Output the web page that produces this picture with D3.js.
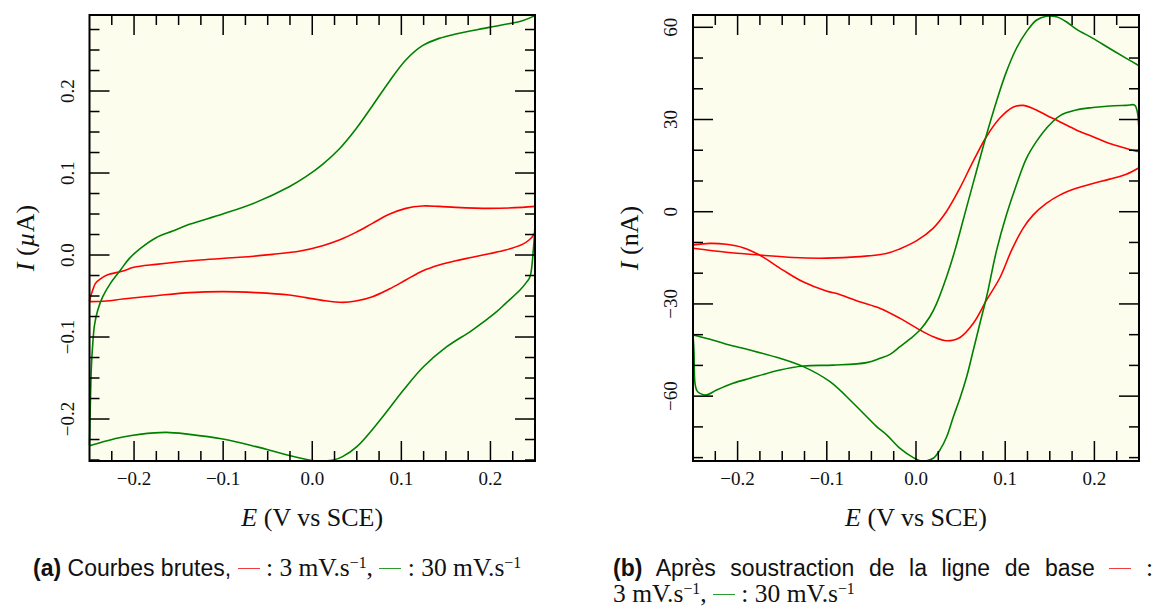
<!DOCTYPE html>
<html><head><meta charset="utf-8">
<script src="https://cdn.jsdelivr.net/npm/d3@7"></script>
<style>
html,body{margin:0;padding:0;background:#fff;}
body{width:1157px;height:607px;overflow:hidden;position:relative;}
#chart{position:absolute;left:0;top:0;}
.cap{position:absolute;font-family:"Liberation Sans",Arial,sans-serif;font-size:23px;color:#111;line-height:25px;white-space:nowrap;}
.m{font-family:"Liberation Serif","Times New Roman",serif;font-size:25.5px;}
.m sup{font-size:0.62em;line-height:0;vertical-align:0.5em;}
.sw{display:inline-block;width:22px;height:0;border-top:1.6px solid;vertical-align:0.3em;}
</style></head>
<body>
<svg id="chart" width="1157" height="607"></svg>
<script>
// ---------- DATA ----------
const xMajorTicks = [-0.2, -0.1, 0.0, 0.1, 0.2];
const xTickLabels = ["\u22120.2", "\u22120.1", "0.0", "0.1", "0.2"];
const leftYTicks = [-0.2, -0.1, 0.0, 0.1, 0.2];
const leftYTickLabels = ["\u22120.2", "\u22120.1", "0.0", "0.1", "0.2"];
const rightYTicks = [-60, -30, 0, 30, 60];
const rightYTickLabels = ["\u221260", "\u221230", "0", "30", "60"];

// (a) raw curves, E (V) vs I (µA): forward (anodic) and reverse scans
const rawRedFwd = [
 [-0.25,-0.0561],[-0.2489,-0.0508],[-0.2470,-0.0447],[-0.2433,-0.0346],[-0.2369,-0.0285],[-0.2302,-0.0244],
 [-0.2126,-0.0195],[-0.2003,-0.0150],[-0.1753,-0.0114],[-0.1256,-0.0061],[-0.0818,-0.0028],[-0.0445,0.0008],
 [-0.0135,0.0049],[0.0116,0.0114],[0.0303,0.0183],[0.0490,0.0276],[0.0676,0.0386],[0.0863,0.0496],
 [0.1050,0.0569],[0.1237,0.0598],[0.1424,0.0593],[0.1611,0.0581],[0.1984,0.0569],[0.2358,0.0581],[0.25,0.0593]
];
const rawRedRev = [
 [0.25,0.0285],[0.2489,0.0252],[0.2433,0.0183],[0.2358,0.0130],[0.2171,0.0061],[0.1984,0.0016],[0.1797,-0.0028],
 [0.1611,-0.0069],[0.1424,-0.0122],[0.1237,-0.0195],[0.1050,-0.0305],[0.0863,-0.0415],[0.0676,-0.0508],
 [0.0490,-0.0561],[0.0340,-0.0577],[0.0116,-0.0553],[-0.0071,-0.0520],[-0.0258,-0.0488],[-0.0632,-0.0459],
 [-0.1005,-0.0447],[-0.1379,-0.0459],[-0.1753,-0.0496],[-0.2126,-0.0537],[-0.2313,-0.0561],[-0.25,-0.0569]
];
const rawGreenFwd = [
 [-0.25,-0.2317],[-0.2489,-0.1748],[-0.2478,-0.1341],[-0.2463,-0.1077],[-0.2444,-0.0854],[-0.2407,-0.0671],
 [-0.2351,-0.0508],[-0.2265,-0.0346],[-0.2152,-0.0183],[-0.2052,-0.0041],[-0.1928,0.0081],[-0.1753,0.0211],
 [-0.1566,0.0293],[-0.1379,0.0374],[-0.1005,0.0500],[-0.0632,0.0642],[-0.0258,0.0833],[-0.0071,0.0955],
 [0.0116,0.1106],[0.0303,0.1293],[0.0490,0.1537],[0.0676,0.1821],[0.0863,0.2114],[0.1050,0.2378],
 [0.1237,0.2553],[0.1424,0.2642],[0.1611,0.2695],[0.1984,0.2776],[0.2358,0.2858],[0.25,0.2919]
];
const rawGreenRev = [
 [0.25,0.0400],[0.2496,0.0285],[0.2481,0.0061],[0.2444,-0.0264],[0.2395,-0.0346],[0.2332,-0.0427],[0.2171,-0.0589],
 [0.2070,-0.0691],[0.1797,-0.0915],[0.1510,-0.1118],[0.1248,-0.1362],[0.1024,-0.1646],[0.0762,-0.2012],
 [0.0501,-0.2337],[0.0340,-0.2459],[0.0239,-0.2500],[0.0116,-0.2510],[-0.0004,-0.2506],[-0.0247,-0.2447],
 [-0.0632,-0.2337],[-0.1005,-0.2244],[-0.1379,-0.2187],[-0.1641,-0.2163],[-0.1939,-0.2187],[-0.2126,-0.2220],
 [-0.2313,-0.2268],[-0.25,-0.2325]
];

// (b) baseline-subtracted curves, E (V) vs I (nA)
const subRedFwd = [
 [-0.25,-11.9],[-0.2126,-13.2],[-0.1753,-14.1],[-0.1379,-14.9],[-0.1005,-15.1],[-0.0632,-14.6],[-0.0333,-13.6],
 [-0.0183,-12.1],[0.0004,-9.5],[0.0191,-5.4],[0.0340,0.0],[0.0490,7.6],[0.0639,16.3],[0.0789,24.4],
 [0.0938,30.4],[0.1087,34.0],[0.1200,34.6],[0.1312,33.6],[0.1461,31.4],[0.1611,29.3],[0.1797,26.6],
 [0.1984,24.4],[0.2171,22.2],[0.2358,20.6],[0.25,19.5]
];
const subRedRev = [
 [0.25,14.3],[0.2358,12.2],[0.2171,10.6],[0.1984,9.2],[0.1797,7.6],[0.1611,5.4],[0.1461,2.7],[0.1312,-1.1],
 [0.1200,-5.4],[0.1072,-12.5],[0.0942,-21.4],[0.0792,-28.7],[0.0643,-36.3],[0.0493,-40.9],[0.0344,-42.0],
 [0.0194,-40.7],[0.0045,-38.5],[-0.0179,-34.7],[-0.0407,-31.4],[-0.0632,-29.3],[-0.0856,-26.9],[-0.1005,-25.8],
 [-0.1267,-22.8],[-0.1491,-19.0],[-0.1753,-14.1],[-0.1939,-11.7],[-0.2126,-10.6],[-0.2313,-10.3],[-0.25,-10.8]
];
const subGreenFwd = [
 [-0.25,-40.1],[-0.2489,-45.5],[-0.2478,-55.8],[-0.2455,-58.3],[-0.2422,-59.1],[-0.2347,-59.6],[-0.2235,-58.0],
 [-0.2052,-55.8],[-0.1861,-54.2],[-0.1525,-51.5],[-0.1263,-50.2],[-0.0927,-49.9],[-0.0553,-49.1],[-0.0404,-47.7],
 [-0.0291,-46.4],[-0.0179,-43.9],[-0.0067,-41.4],[0.0045,-38.5],[0.0157,-34.1],[0.0232,-29.8],[0.0344,-21.1],
 [0.0437,-12.5],[0.0564,1.1],[0.0676,13.0],[0.0789,24.9],[0.0901,35.8],[0.1013,45.5],[0.1125,53.1],
 [0.1237,58.5],[0.1349,62.3],[0.1461,63.6],[0.1573,63.4],[0.1685,61.8],[0.1797,59.4],[0.1984,56.4],
 [0.2171,53.1],[0.2358,49.9],[0.25,47.5]
];
const subGreenRev = [
 [0.25,26.0],[0.2481,32.5],[0.2451,34.7],[0.2358,34.6],[0.2171,34.4],[0.1984,33.9],[0.1797,33.1],[0.1611,31.2],
 [0.1461,27.1],[0.1349,22.8],[0.1237,17.3],[0.1125,8.7],[0.1013,-1.1],[0.0904,-12.5],[0.0792,-27.6],
 [0.0717,-36.3],[0.0643,-45.0],[0.0568,-53.7],[0.0493,-60.7],[0.0419,-66.7],[0.0344,-73.2],[0.0269,-77.5],
 [0.0194,-80.2],[0.0120,-81.0],[0.0045,-81.0],[-0.0030,-80.0],[-0.0179,-77.0],[-0.0329,-72.6],[-0.0441,-69.9],
 [-0.0703,-62.3],[-0.0964,-55.3],[-0.1263,-50.4],[-0.1525,-47.7],[-0.1861,-45.0],[-0.2126,-43.1],
 [-0.2309,-41.5],[-0.25,-40.1]
];

// ---------- DRAW ----------
const svg = d3.select("#chart");
const serif = "'Liberation Serif','Times New Roman',serif";
const RED = "#ff0000", GREEN = "#008000";

const xL = d3.scaleLinear().domain([-0.25, 0.25]).range([89.5, 535]);
const yL = d3.scaleLinear().domain([-0.2512, 0.2927]).range([461, 15]);
const xR = d3.scaleLinear().domain([-0.25, 0.25]).range([693, 1139]);
const yR = d3.scaleLinear().domain([-81.1, 64.0]).range([461, 15]);

const plots = [
  {x: xL, y: yL, yMinorStep: 0.025, yTicks: leftYTicks, yLabels: leftYTickLabels, unit: "µA", yLabelX: 67, yTitleX: 34,
   series: [{data: rawRedFwd, color: RED}, {data: rawRedRev, color: RED}, {data: rawGreenFwd, color: GREEN}, {data: rawGreenRev, color: GREEN}]},
  {x: xR, y: yR, yMinorStep: 10, yTicks: rightYTicks, yLabels: rightYTickLabels, unit: "nA", yLabelX: 670, yTitleX: 638,
   series: [{data: subRedFwd, color: RED}, {data: subRedRev, color: RED}, {data: subGreenFwd, color: GREEN}, {data: subGreenRev, color: GREEN}]}
];

// layer 1: backgrounds and curves
plots.forEach(P => {
  const {x, y} = P;
  const [x0, x1] = x.range(), [y1, y0] = y.range();
  const g = svg.append("g");
  g.append("rect").attr("x", x0).attr("y", y0).attr("width", x1 - x0).attr("height", y1 - y0).attr("fill", "#fdfdee");
  const line = d3.line().x(d => x(d[0])).y(d => Math.max(y0, Math.min(y1, y(d[1]))))
    .curve(d3.curveCatmullRom.alpha(0.5));
  P.series.forEach(s => {
    g.append("path").datum(s.data).attr("d", line).attr("fill", "none")
      .attr("stroke", s.color).attr("stroke-width", 1.6).attr("stroke-linejoin", "round");
  });
});

// layer 2: labels and titles
plots.forEach(P => {
  const {x, y} = P;
  const [x0, x1] = x.range(), [y1, y0] = y.range();
  const g = svg.append("g");
  g.selectAll(null).data(xMajorTicks).enter().append("text")
    .attr("x", d => x(d)).attr("y", y1 + 24).attr("text-anchor", "middle")
    .attr("font-family", serif).attr("font-size", 19).attr("fill", "#111")
    .text((d, i) => xTickLabels[i]);
  g.selectAll(null).data(P.yTicks).enter().append("text")
    .attr("transform", d => `translate(${P.yLabelX},${y(d)}) rotate(-90)`)
    .attr("text-anchor", "middle").attr("dy", "0.35em")
    .attr("font-family", serif).attr("font-size", 19).attr("fill", "#111")
    .text((d, i) => P.yLabels[i]);
  const xtt = g.append("text").attr("x", (x0 + x1) / 2).attr("y", 526).attr("text-anchor", "middle")
    .attr("font-family", serif).attr("font-size", 26).attr("fill", "#111");
  xtt.append("tspan").attr("font-style", "italic").text("E");
  xtt.append("tspan").text(" (V vs SCE)");
  const ytt = g.append("text").attr("transform", `translate(${P.yTitleX},${(y0 + y1) / 2}) rotate(-90)`)
    .attr("text-anchor", "middle").attr("font-family", serif).attr("font-size", 26).attr("fill", "#111");
  ytt.append("tspan").attr("font-style", "italic").text("I");
  ytt.append("tspan").text(" (");
  if (P.unit === "µA") { ytt.append("tspan").attr("font-style", "italic").text("µ"); ytt.append("tspan").text("A)"); }
  else ytt.append("tspan").text(P.unit + ")");
});

// layer 3 (top): ticks on all four sides (as thin filled rects) and the frame
plots.forEach(P => {
  const {x, y} = P;
  const [x0, x1] = x.range(), [y1, y0] = y.range();
  const xDomain = x.domain(), yDomain = y.domain();
  const g = svg.append("g");
  const xMinor = d3.range(-10, 11).map(i => i * 0.025).filter(v => v > xDomain[0] + 1e-9 && v < xDomain[1] - 1e-9);
  const yMinor = d3.range(Math.ceil(yDomain[0] / P.yMinorStep), Math.floor(yDomain[1] / P.yMinorStep) + 1)
    .map(i => i * P.yMinorStep).filter(v => v > yDomain[0] + 1e-9 && v < yDomain[1] - 1e-9);
  const isMajor = (v, majors) => majors.some(m => Math.abs(m - v) < 1e-6);
  const w = 1.5;
  const xt = xMinor.map(v => ({p: x(v), len: isMajor(v, xMajorTicks) ? 20 : 10}));
  const yt = yMinor.map(v => ({p: y(v), len: isMajor(v, P.yTicks) ? 20 : 10}));
  const rects = [];
  xt.forEach(t => { rects.push([t.p - w / 2, y1 - t.len, w, t.len]); rects.push([t.p - w / 2, y0, w, t.len]); });
  yt.forEach(t => { rects.push([x0, t.p - w / 2, t.len, w]); rects.push([x1 - t.len, t.p - w / 2, t.len, w]); });
  g.selectAll(null).data(rects).enter().append("rect")
    .attr("x", d => d[0]).attr("y", d => d[1]).attr("width", d => d[2]).attr("height", d => d[3])
    .attr("fill", "#000");
  g.append("rect").attr("x", x0).attr("y", y0).attr("width", x1 - x0).attr("height", y1 - y0)
    .attr("fill", "none").attr("stroke", "#000").attr("stroke-width", 2);
});

// captions
const body = d3.select("body");
body.append("div").attr("class", "cap").style("left", "33px").style("top", "555px")
  .html('<b>(a)</b> Courbes brutes, <span class="sw" style="border-color:#f23c3c"></span><span class="m"> : 3 mV.s<sup>\u22121</sup>, </span><span class="sw" style="border-color:#2e9a2e"></span><span class="m"> : 30 mV.s<sup>\u22121</sup></span>');
const cb = body.append("div").attr("class", "cap").style("left", "613px").style("top", "555px").style("width", "540px");
cb.append("div").style("text-align", "justify").style("text-align-last", "justify").style("white-space", "normal")
  .html('<b>(b)</b> Après soustraction de la ligne de base <span class="sw" style="border-color:#f23c3c"></span> <span class="m">:</span>');
cb.append("div")
  .html('<span class="m">3 mV.s<sup>\u22121</sup>, </span><span class="sw" style="border-color:#2e9a2e"></span><span class="m"> : 30 mV.s<sup>\u22121</sup></span>');
</script>
</body></html>
